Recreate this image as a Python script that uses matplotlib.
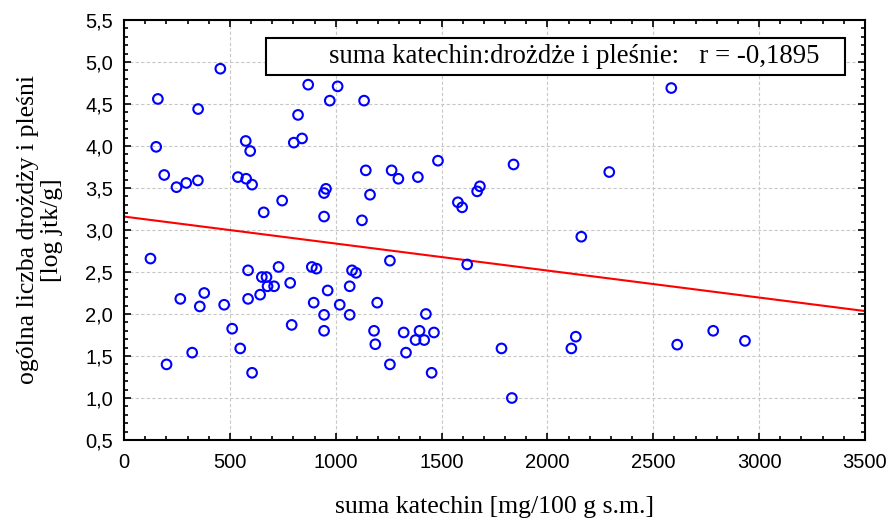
import numpy as np
import matplotlib
matplotlib.use("Agg")
import matplotlib.pyplot as plt
from matplotlib.ticker import MultipleLocator, FuncFormatter
from matplotlib.patches import Rectangle

catechins = [125, 160, 152, 190, 201, 248, 266, 294, 322, 349, 350, 358, 379, 455, 473,
             511, 538, 549, 575, 577, 586, 586, 596, 605, 605, 643, 651, 660, 673, 678,
             709, 730, 747, 785, 792, 802, 822, 841, 870, 887, 896, 909, 945, 945, 945,
             945, 954, 962, 972, 1009, 1019, 1066, 1066, 1077, 1096, 1124, 1134, 1142, 1162, 1181,
             1187, 1196, 1256, 1256, 1264, 1296, 1321, 1332, 1377, 1388, 1396, 1418, 1426, 1453, 1464,
             1483, 1577, 1597, 1621, 1668, 1681, 1783, 1832, 1840, 2113, 2134, 2160, 2292, 2585, 2613,
             2783, 2933]
yeasts = [2.66, 4.56, 3.99, 3.655, 1.40, 3.51, 2.18, 3.56, 1.54, 3.59, 4.44, 2.09, 2.25, 4.92, 2.11,
          1.825, 3.63, 1.59, 4.06, 3.61, 2.52, 2.18, 3.94, 3.54, 1.30, 2.23, 2.44, 3.21, 2.44, 2.33,
          2.33, 2.56, 3.35, 2.37, 1.87, 4.04, 4.37, 4.09, 4.73, 2.56, 2.135, 2.54, 3.44, 3.16, 1.99,
          1.80, 3.49, 2.28, 4.54, 4.71, 2.11, 2.33, 1.99, 2.52, 2.49, 3.115, 4.54, 3.71, 3.42, 1.80,
          1.64, 2.135, 2.635, 1.40, 3.71, 3.61, 1.78, 1.54, 1.69, 3.63, 1.80, 1.69, 2.00, 1.30, 1.78,
          3.825, 3.33, 3.27, 2.59, 3.46, 3.52, 1.59, 1.00, 3.78, 1.59, 1.73, 2.92, 3.69, 4.69, 1.635,
          1.80, 1.68]

# regression line as drawn in the reference (intercept, slope)
fit_intercept = 3.16
fit_slope = -3.214e-4

x_ticks = [0, 500, 1000, 1500, 2000, 2500, 3000, 3500]
y_ticks = [0.5, 1.0, 1.5, 2.0, 2.5, 3.0, 3.5, 4.0, 4.5, 5.0, 5.5]
annotation = "suma katechin:drożdże i pleśnie:   r = -0,1895"
xlabel = "suma katechin [mg/100 g s.m.]"
ylabel = "ogólna liczba drożdży i pleśni\n[log jtk/g]"

serif = ["Liberation Serif", "DejaVu Serif"]
sans = ["Liberation Sans", "DejaVu Sans"]

fig = plt.figure(figsize=(8.89, 5.24), dpi=100)
ax = fig.add_axes([124/889, 1-440/524, 741/889, 420/524])

ax.scatter(catechins, yeasts, s=48, facecolors="none", edgecolors="#0000ff", linewidths=1.5, zorder=3)

xl = np.array([0, 3500])
ax.plot(xl, fit_intercept + fit_slope * xl, color="#ff0000", lw=1.5, zorder=2)

ax.set_xlim(0, 3500)
ax.set_ylim(0.5, 5.5)
ax.set_xticks(x_ticks)
ax.set_yticks(y_ticks)
ax.xaxis.set_minor_locator(MultipleLocator(100))
ax.yaxis.set_minor_locator(MultipleLocator(0.1))
ax.yaxis.set_major_formatter(FuncFormatter(lambda v, p: f"{v:.1f}".replace(".", ",")))
ax.tick_params(which="both", direction="in", top=True, right=True, width=1.2)
ax.tick_params(which="major", length=5, labelsize=14.5)
ax.tick_params(axis="x", which="major", pad=9)
ax.tick_params(axis="y", which="major", pad=8)
ax.tick_params(which="minor", length=3)
for lab in ax.get_xticklabels() + ax.get_yticklabels():
    lab.set_family(sans)
for sp in ax.spines.values():
    sp.set_linewidth(1.5)
ax.grid(True, which="major", color="#c8c8c8", linestyle=(0, (3, 2)), linewidth=0.8)
ax.set_axisbelow(True)

ax.set_xlabel(xlabel, family=serif, fontsize=18.5, labelpad=18)
ax.set_ylabel(ylabel, family=serif, fontsize=18.5, labelpad=16, linespacing=1.1)

ax.add_patch(Rectangle((0.1916, 0.869), 0.973-0.1916, 0.088, transform=ax.transAxes,
                       facecolor="white", edgecolor="black", linewidth=1.5, zorder=4))
ax.text(0.608, 0.913, annotation, transform=ax.transAxes, ha="center", va="center",
        family=serif, fontsize=19.3, zorder=5)

fig.savefig("out.png", dpi=100)
